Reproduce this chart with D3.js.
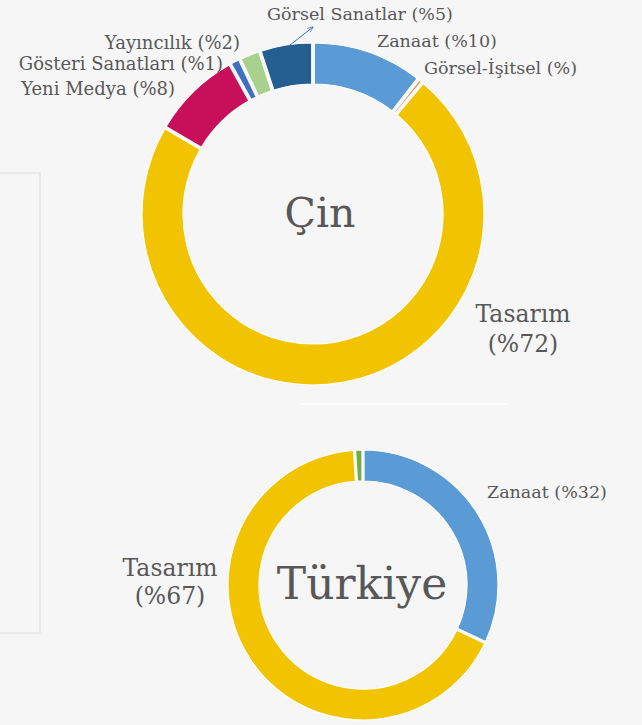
<!DOCTYPE html>
<html>
<head>
<meta charset="utf-8">
<script src="https://cdn.jsdelivr.net/npm/d3@7"></script>
<style>
  body { margin: 0; background: #f6f6f6; }
  #chart-container { width: 642px; height: 725px; overflow: hidden; }
</style>
</head>
<body>
<div id="chart-container"></div>
<script>
// data
let cinCategories = ["Zanaat", "Görsel-İşitsel", "Tasarım", "Yeni Medya", "Gösteri Sanatları", "Yayıncılık", "Görsel Sanatlar"];
let cinValues = [10.5, 0.5, 72, 8.5, 1, 2, 5];
let cinLabels = ["Zanaat (%10)", "Görsel-İşitsel (%)", "Tasarım|(%72)", "Yeni Medya (%8)", "Gösteri Sanatları  (%1)", "Yayıncılık (%2)", "Görsel Sanatlar (%5)"];
let cinColors = ["#5b9bd5", "#e8916a", "#f2c300", "#c8105a", "#3f6fc0", "#a9d18e", "#255e91"];

let trCategories = ["Zanaat", "Tasarım", "Yayıncılık"];
let trValues = [32, 67, 1];
let trLabels = ["Zanaat (%32)", "Tasarım|(%67)", ""];
let trColors = ["#5b9bd5", "#f2c300", "#70ad47"];

let width = 642, height = 725;
let fontFamily = "'DejaVu Serif', 'Liberation Serif', serif";
let textColor = "#585858";

let svg = d3.select("#chart-container")
    .append("svg")
    .attr("width", width)
    .attr("height", height);

svg.append("defs").append("marker")
    .attr("id", "arrow")
    .attr("viewBox", "0 0 10 10")
    .attr("refX", 9).attr("refY", 5)
    .attr("markerWidth", 6).attr("markerHeight", 6)
    .attr("orient", "auto")
    .append("path")
    .attr("d", "M0,1 L10,5 L0,9")
    .attr("fill", "none")
    .attr("stroke", "#4472c4")
    .attr("stroke-width", 1.2);

// left box edge and faint separator
svg.append("rect")
    .attr("x", -2).attr("y", 173)
    .attr("width", 42).attr("height", 460)
    .attr("fill", "none")
    .attr("stroke", "#dcdcdc")
    .attr("stroke-width", 1);
svg.append("line")
    .attr("x1", 300).attr("x2", 508)
    .attr("y1", 404).attr("y2", 404)
    .attr("stroke", "#ffffff")
    .attr("stroke-width", 1.5);

let pie = d3.pie().sort(null).value(d => d);

function drawDonut(cx, cy, rOuter, rInner, values, colors, title, titleSize, titlePos) {
    let g = svg.append("g").attr("transform", "translate(" + cx + "," + cy + ")");
    let arc = d3.arc().innerRadius(rInner).outerRadius(rOuter).padAngle(0.012);
    g.selectAll("path")
        .data(pie(values))
        .enter()
        .append("path")
        .attr("d", arc)
        .attr("fill", (d, i) => colors[i])
        .attr("stroke", "#ffffff")
        .attr("stroke-width", 1.2);
    g.append("text")
        .attr("x", titlePos[0])
        .attr("y", titlePos[1])
        .attr("text-anchor", "middle")
        .attr("font-family", fontFamily)
        .attr("fill", textColor)
        .style("font-size", titleSize + "px")
        .text(title);
}

drawDonut(313, 214, 171, 130, cinValues, cinColors, "Çin", 41, [7, 13]);
drawDonut(363, 585, 135, 104, trValues, trColors, "Türkiye", 44, [-1, 14]);

// label placement: [x, baseline y, anchor, fontSize, line gap]
let cinLabelPos = [
    [377, 47, "start", 17.5, 0],
    [424, 74, "start", 17.5, 0],
    [523, 322, "middle", 23.5, 30],
    [175, 95, "end", 18, 0],
    [223, 70, "end", 18, 0],
    [240, 49, "end", 18, 0],
    [360, 20, "middle", 17.5, 0]
];
let trLabelPos = [
    [487, 498, "start", 17.5, 0],
    [170, 576, "middle", 23.5, 28],
    [0, 0, "start", 0, 0]
];

function drawLabels(labels, pos) {
    labels.forEach((lab, i) => {
        if (!lab) return;
        let p = pos[i];
        let t = svg.append("text")
            .attr("x", p[0]).attr("y", p[1])
            .attr("text-anchor", p[2])
            .attr("font-family", fontFamily)
            .attr("fill", textColor)
            .style("font-size", p[3] + "px");
        lab.split("|").forEach((line, j) => {
            t.append("tspan")
                .attr("x", p[0])
                .attr("dy", j === 0 ? 0 : p[4])
                .text(line);
        });
    });
}
drawLabels(cinLabels, cinLabelPos);
drawLabels(trLabels, trLabelPos);

// leader arrow for Görsel Sanatlar
svg.append("line")
    .attr("x1", 290).attr("y1", 45)
    .attr("x2", 313).attr("y2", 27)
    .attr("stroke", "#4472c4")
    .attr("stroke-width", 1)
    .attr("marker-end", "url(#arrow)");
</script>
</body>
</html>
